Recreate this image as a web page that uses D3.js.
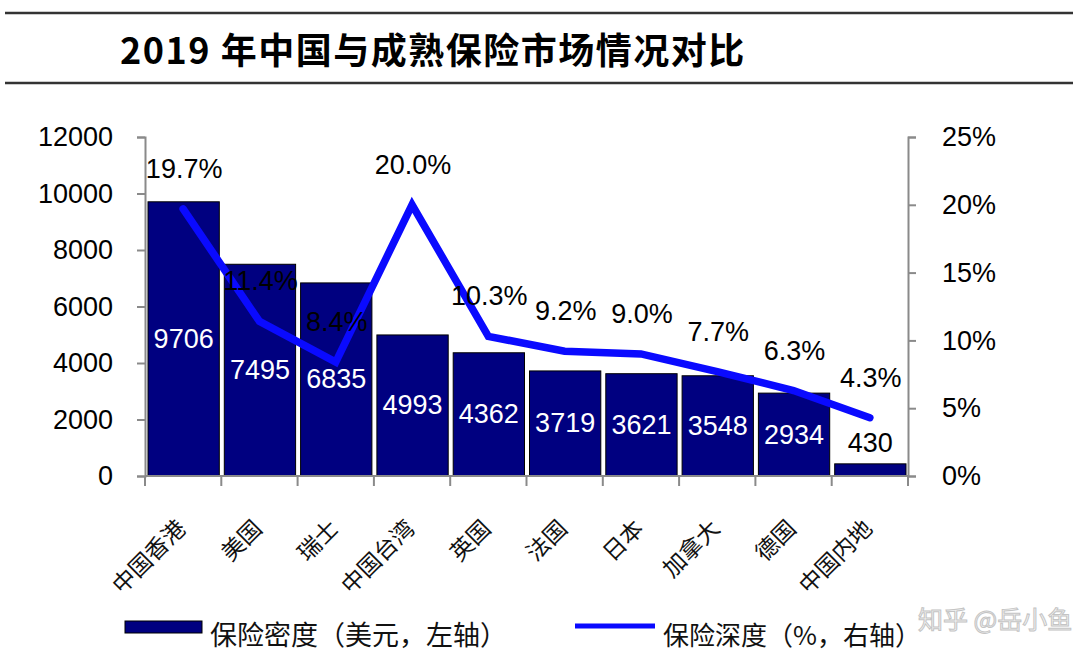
<!DOCTYPE html>
<html>
<head>
<meta charset="utf-8">
<script src="https://cdn.jsdelivr.net/npm/d3@7/dist/d3.min.js"></script>
<style>
  html, body { margin: 0; padding: 0; background: #fff; }
  svg { display: block; }
</style>
</head>
<body>
<svg id="chart" width="1080" height="665"></svg>
<script>
// ---- data ----
const categories = ["中国香港", "美国", "瑞士", "中国台湾", "英国", "法国", "日本", "加拿大", "德国", "中国内地"];
const density = [9706, 7495, 6835, 4993, 4362, 3719, 3621, 3548, 2934, 430];   // 美元, 左轴
const depth = [19.7, 11.4, 8.4, 20.0, 10.3, 9.2, 9.0, 7.7, 6.3, 4.3];          // %, 右轴
const leftTicks = [0, 2000, 4000, 6000, 8000, 10000, 12000];
const rightTicks = [0, 5, 10, 15, 20, 25];
const titleText = "2019 年中国与成熟保险市场情况对比";
const legendBar = "保险密度（美元，左轴）";
const legendLine = "保险深度（%，右轴）";
const watermark = "知乎 @岳小鱼";

// ---- layout ----
const svg = d3.select("#chart");
const L = 145, R = 908, T = 137, B = 476;
const latin = "'Liberation Sans', Arial, sans-serif";
const cjk = "'Noto Sans CJK SC', sans-serif";
const axisColor = "#8a8a8a";

const x = d3.scaleBand().domain(categories).range([L, R]).padding(0);
const yL = d3.scaleLinear().domain([0, 12000]).range([B, T]);
const yR = d3.scaleLinear().domain([0, 25]).range([B, T]);

// title and rules
svg.append("line").attr("x1", 5).attr("x2", 1073).attr("y1", 13).attr("y2", 13)
  .attr("stroke", "#333").attr("stroke-width", 2.5);
svg.append("line").attr("x1", 5).attr("x2", 1073).attr("y1", 83).attr("y2", 83)
  .attr("stroke", "#333").attr("stroke-width", 2.5);
svg.append("text").attr("x", 120).attr("y", 48).attr("dominant-baseline", "central")
  .attr("font-family", cjk).attr("font-weight", 700).attr("font-size", 36)
  .attr("letter-spacing", 1.5)
  .attr("fill", "#000").text(titleText);

// bars
const bw = x.bandwidth();
svg.append("g").selectAll("rect").data(categories).join("rect")
  .attr("x", d => x(d) + 3)
  .attr("width", bw - 5)
  .attr("y", (d, i) => yL(density[i]))
  .attr("height", (d, i) => B - yL(density[i]))
  .attr("fill", "#000080").attr("stroke", "#000").attr("stroke-width", 1);

// axes
const gLeft = svg.append("g").attr("transform", `translate(${L},0)`)
  .call(d3.axisLeft(yL).tickValues(leftTicks).tickSize(8).tickPadding(24).tickFormat(d3.format("d")));
const gRight = svg.append("g").attr("transform", `translate(${R},0)`)
  .call(d3.axisRight(yR).tickValues(rightTicks).tickSize(8).tickPadding(26).tickFormat(d => d + "%"));
[gLeft, gRight].forEach(g => {
  g.select(".domain").attr("stroke", axisColor).attr("stroke-width", 2);
  g.selectAll(".tick line").attr("stroke", axisColor).attr("stroke-width", 2);
  g.selectAll(".tick text").attr("font-family", latin).attr("font-size", 27).attr("fill", "#000");
});

// bottom axis
const gBottom = svg.append("g");
gBottom.append("line").attr("x1", L).attr("x2", R).attr("y1", B).attr("y2", B)
  .attr("stroke", axisColor).attr("stroke-width", 2);
const bounds = categories.map(c => x(c)).concat([x(categories[categories.length - 1]) + bw]);
gBottom.selectAll("line.tk").data(bounds).join("line").attr("class", "tk")
  .attr("x1", d => d).attr("x2", d => d).attr("y1", B).attr("y2", B + 10)
  .attr("stroke", axisColor).attr("stroke-width", 2);
gBottom.selectAll("text").data(categories).join("text")
  .attr("transform", d => `translate(${x(d) + bw / 2 + 4},${530}) rotate(-45)`)
  .attr("text-anchor", "end")
  .attr("font-family", cjk).attr("font-size", 23).attr("fill", "#111")
  .text(d => d);

// bar value labels
svg.append("g").selectAll("text").data(categories).join("text")
  .attr("x", d => x(d) + bw / 2 + 0.5)
  .attr("y", (d, i) => {
    const h = B - yL(density[i]);
    return h > 40 ? (yL(density[i]) + B) / 2 : yL(density[i]) - 21;
  })
  .attr("dominant-baseline", "central").attr("text-anchor", "middle")
  .attr("font-family", latin).attr("font-size", 27)
  .attr("fill", (d, i) => (B - yL(density[i]) > 40 ? "#fff" : "#000"))
  .text((d, i) => density[i]);

// line
const line = d3.line().x((d, i) => x(categories[i]) + bw / 2).y(d => yR(d));
svg.append("path").datum(depth).attr("d", line)
  .attr("fill", "none").attr("stroke", "#0a0aff").attr("stroke-width", 7.5)
  .attr("stroke-linejoin", "miter").attr("stroke-linecap", "round");

// line labels
svg.append("g").selectAll("text").data(depth).join("text")
  .attr("x", (d, i) => x(categories[i]) + bw / 2 + 1)
  .attr("y", d => yR(d) - 40)
  .attr("dominant-baseline", "central").attr("text-anchor", "middle")
  .attr("font-family", latin).attr("font-size", 27).attr("fill", "#000")
  .text(d => d.toFixed(1) + "%");

// legend
svg.append("rect").attr("x", 125).attr("y", 621).attr("width", 77).attr("height", 12)
  .attr("fill", "#000080").attr("stroke", "#000").attr("stroke-width", 1);
svg.append("text").attr("x", 210).attr("y", 633).attr("dominant-baseline", "central")
  .attr("font-family", cjk).attr("font-size", 27).attr("fill", "#111").text(legendBar);
svg.append("line").attr("x1", 575).attr("x2", 655).attr("y1", 626).attr("y2", 626)
  .attr("stroke", "#0a0aff").attr("stroke-width", 5);
svg.append("text").attr("x", 663).attr("y", 633).attr("dominant-baseline", "central")
  .attr("font-family", cjk).attr("font-size", 26).attr("fill", "#111").text(legendLine);

// watermark (kept clear of the legend text)
svg.append("text").attr("x", 918).attr("y", 618).attr("dominant-baseline", "central")
  .attr("font-family", cjk).attr("font-size", 25)
  .attr("fill", "#f4f4f4").attr("stroke", "#c4c4c4").attr("stroke-width", 1)
  .text(watermark);
</script>
</body>
</html>
